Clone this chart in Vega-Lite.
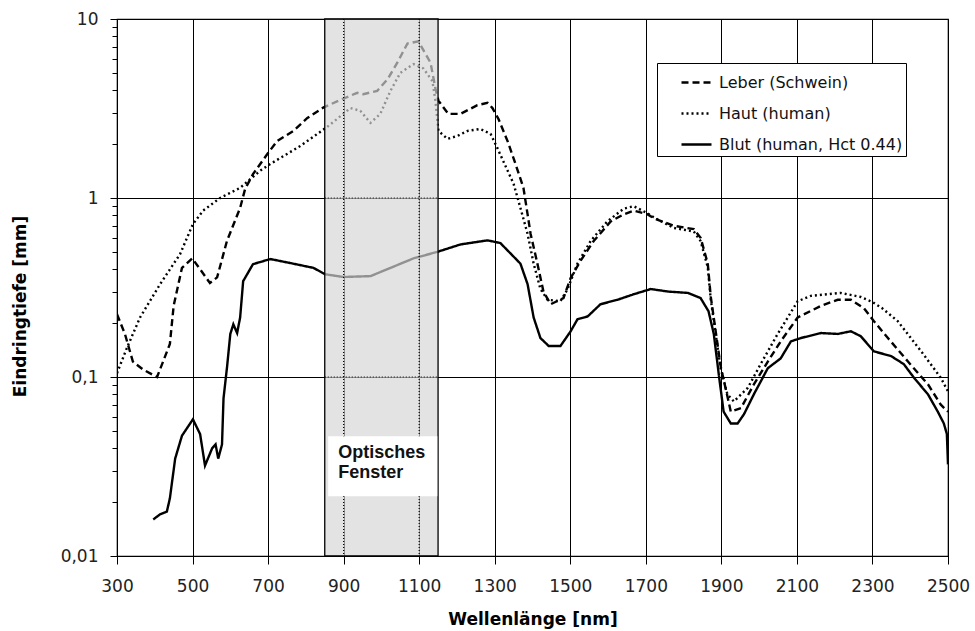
{
  "$schema": "https://vega.github.io/schema/vega-lite/v6.json",
  "width": 831,
  "height": 537,
  "autosize": "none",
  "padding": {"left": 117, "top": 19, "right": 27, "bottom": 75},
  "background": "white",
  "config": {
    "view": {"stroke": "black", "strokeWidth": 1.2},
    "font": "DejaVu Sans"
  },
  "datasets": {
    "curves": [
      {"series": "Leber (Schwein)", "nm": 300, "v": 0.224},
      {"series": "Leber (Schwein)", "nm": 321, "v": 0.174},
      {"series": "Leber (Schwein)", "nm": 342, "v": 0.122},
      {"series": "Leber (Schwein)", "nm": 369, "v": 0.11},
      {"series": "Leber (Schwein)", "nm": 406, "v": 0.1},
      {"series": "Leber (Schwein)", "nm": 422, "v": 0.122},
      {"series": "Leber (Schwein)", "nm": 440, "v": 0.153},
      {"series": "Leber (Schwein)", "nm": 450, "v": 0.25},
      {"series": "Leber (Schwein)", "nm": 472, "v": 0.407},
      {"series": "Leber (Schwein)", "nm": 499, "v": 0.46},
      {"series": "Leber (Schwein)", "nm": 520, "v": 0.4},
      {"series": "Leber (Schwein)", "nm": 546, "v": 0.335},
      {"series": "Leber (Schwein)", "nm": 565, "v": 0.36},
      {"series": "Leber (Schwein)", "nm": 591, "v": 0.575},
      {"series": "Leber (Schwein)", "nm": 626, "v": 0.88},
      {"series": "Leber (Schwein)", "nm": 639, "v": 1.12},
      {"series": "Leber (Schwein)", "nm": 660, "v": 1.36},
      {"series": "Leber (Schwein)", "nm": 698, "v": 1.76},
      {"series": "Leber (Schwein)", "nm": 724, "v": 2.08},
      {"series": "Leber (Schwein)", "nm": 767, "v": 2.37},
      {"series": "Leber (Schwein)", "nm": 804, "v": 2.8},
      {"series": "Leber (Schwein)", "nm": 846, "v": 3.2},
      {"series": "Leber (Schwein)", "nm": 891, "v": 3.53},
      {"series": "Leber (Schwein)", "nm": 936, "v": 3.87},
      {"series": "Leber (Schwein)", "nm": 952, "v": 3.8},
      {"series": "Leber (Schwein)", "nm": 989, "v": 3.97},
      {"series": "Leber (Schwein)", "nm": 1016, "v": 4.6},
      {"series": "Leber (Schwein)", "nm": 1042, "v": 5.7},
      {"series": "Leber (Schwein)", "nm": 1069, "v": 7.3},
      {"series": "Leber (Schwein)", "nm": 1098, "v": 7.5},
      {"series": "Leber (Schwein)", "nm": 1130, "v": 5.7},
      {"series": "Leber (Schwein)", "nm": 1143, "v": 4.1},
      {"series": "Leber (Schwein)", "nm": 1151, "v": 3.5},
      {"series": "Leber (Schwein)", "nm": 1177, "v": 2.95},
      {"series": "Leber (Schwein)", "nm": 1209, "v": 2.95},
      {"series": "Leber (Schwein)", "nm": 1254, "v": 3.3},
      {"series": "Leber (Schwein)", "nm": 1281, "v": 3.4},
      {"series": "Leber (Schwein)", "nm": 1294, "v": 3.18},
      {"series": "Leber (Schwein)", "nm": 1310, "v": 2.76},
      {"series": "Leber (Schwein)", "nm": 1334, "v": 2.08},
      {"series": "Leber (Schwein)", "nm": 1355, "v": 1.55},
      {"series": "Leber (Schwein)", "nm": 1376, "v": 1.14},
      {"series": "Leber (Schwein)", "nm": 1387, "v": 0.81},
      {"series": "Leber (Schwein)", "nm": 1395, "v": 0.63},
      {"series": "Leber (Schwein)", "nm": 1413, "v": 0.43},
      {"series": "Leber (Schwein)", "nm": 1429, "v": 0.3},
      {"series": "Leber (Schwein)", "nm": 1448, "v": 0.255},
      {"series": "Leber (Schwein)", "nm": 1482, "v": 0.276},
      {"series": "Leber (Schwein)", "nm": 1501, "v": 0.357},
      {"series": "Leber (Schwein)", "nm": 1527, "v": 0.445},
      {"series": "Leber (Schwein)", "nm": 1562, "v": 0.575},
      {"series": "Leber (Schwein)", "nm": 1607, "v": 0.74},
      {"series": "Leber (Schwein)", "nm": 1641, "v": 0.81},
      {"series": "Leber (Schwein)", "nm": 1668, "v": 0.85},
      {"series": "Leber (Schwein)", "nm": 1705, "v": 0.81},
      {"series": "Leber (Schwein)", "nm": 1721, "v": 0.77},
      {"series": "Leber (Schwein)", "nm": 1774, "v": 0.7},
      {"series": "Leber (Schwein)", "nm": 1827, "v": 0.67},
      {"series": "Leber (Schwein)", "nm": 1845, "v": 0.6},
      {"series": "Leber (Schwein)", "nm": 1864, "v": 0.43},
      {"series": "Leber (Schwein)", "nm": 1872, "v": 0.28},
      {"series": "Leber (Schwein)", "nm": 1885, "v": 0.18},
      {"series": "Leber (Schwein)", "nm": 1898, "v": 0.115},
      {"series": "Leber (Schwein)", "nm": 1916, "v": 0.078},
      {"series": "Leber (Schwein)", "nm": 1925, "v": 0.064},
      {"series": "Leber (Schwein)", "nm": 1952, "v": 0.067},
      {"series": "Leber (Schwein)", "nm": 1986, "v": 0.091},
      {"series": "Leber (Schwein)", "nm": 2023, "v": 0.122},
      {"series": "Leber (Schwein)", "nm": 2057, "v": 0.158},
      {"series": "Leber (Schwein)", "nm": 2102, "v": 0.215},
      {"series": "Leber (Schwein)", "nm": 2164, "v": 0.25},
      {"series": "Leber (Schwein)", "nm": 2208, "v": 0.27},
      {"series": "Leber (Schwein)", "nm": 2243, "v": 0.27},
      {"series": "Leber (Schwein)", "nm": 2277, "v": 0.243},
      {"series": "Leber (Schwein)", "nm": 2304, "v": 0.205},
      {"series": "Leber (Schwein)", "nm": 2341, "v": 0.165},
      {"series": "Leber (Schwein)", "nm": 2394, "v": 0.122},
      {"series": "Leber (Schwein)", "nm": 2447, "v": 0.091},
      {"series": "Leber (Schwein)", "nm": 2481, "v": 0.07},
      {"series": "Leber (Schwein)", "nm": 2500, "v": 0.064},

      {"series": "Haut (human)", "nm": 300, "v": 0.105},
      {"series": "Haut (human)", "nm": 326, "v": 0.145},
      {"series": "Haut (human)", "nm": 361, "v": 0.215},
      {"series": "Haut (human)", "nm": 414, "v": 0.33},
      {"series": "Haut (human)", "nm": 467, "v": 0.486},
      {"series": "Haut (human)", "nm": 501, "v": 0.715},
      {"series": "Haut (human)", "nm": 528, "v": 0.85},
      {"series": "Haut (human)", "nm": 573, "v": 1.0},
      {"series": "Haut (human)", "nm": 626, "v": 1.14},
      {"series": "Haut (human)", "nm": 679, "v": 1.42},
      {"series": "Haut (human)", "nm": 706, "v": 1.55},
      {"series": "Haut (human)", "nm": 785, "v": 1.95},
      {"series": "Haut (human)", "nm": 857, "v": 2.5},
      {"series": "Haut (human)", "nm": 918, "v": 3.18},
      {"series": "Haut (human)", "nm": 944, "v": 3.07},
      {"series": "Haut (human)", "nm": 971, "v": 2.63},
      {"series": "Haut (human)", "nm": 997, "v": 2.95},
      {"series": "Haut (human)", "nm": 1024, "v": 3.97},
      {"series": "Haut (human)", "nm": 1050, "v": 5.0},
      {"series": "Haut (human)", "nm": 1085, "v": 5.6},
      {"series": "Haut (human)", "nm": 1111, "v": 5.3},
      {"series": "Haut (human)", "nm": 1135, "v": 4.5},
      {"series": "Haut (human)", "nm": 1143, "v": 3.5},
      {"series": "Haut (human)", "nm": 1151, "v": 2.37},
      {"series": "Haut (human)", "nm": 1175, "v": 2.14},
      {"series": "Haut (human)", "nm": 1201, "v": 2.22},
      {"series": "Haut (human)", "nm": 1228, "v": 2.37},
      {"series": "Haut (human)", "nm": 1262, "v": 2.43},
      {"series": "Haut (human)", "nm": 1289, "v": 2.28},
      {"series": "Haut (human)", "nm": 1307, "v": 1.9},
      {"series": "Haut (human)", "nm": 1323, "v": 1.6},
      {"series": "Haut (human)", "nm": 1350, "v": 1.2},
      {"series": "Haut (human)", "nm": 1368, "v": 0.88},
      {"series": "Haut (human)", "nm": 1387, "v": 0.63},
      {"series": "Haut (human)", "nm": 1403, "v": 0.43},
      {"series": "Haut (human)", "nm": 1421, "v": 0.31},
      {"series": "Haut (human)", "nm": 1440, "v": 0.27},
      {"series": "Haut (human)", "nm": 1474, "v": 0.265},
      {"series": "Haut (human)", "nm": 1493, "v": 0.31},
      {"series": "Haut (human)", "nm": 1519, "v": 0.43},
      {"series": "Haut (human)", "nm": 1554, "v": 0.575},
      {"series": "Haut (human)", "nm": 1598, "v": 0.74},
      {"series": "Haut (human)", "nm": 1641, "v": 0.87},
      {"series": "Haut (human)", "nm": 1668, "v": 0.9},
      {"series": "Haut (human)", "nm": 1705, "v": 0.82},
      {"series": "Haut (human)", "nm": 1721, "v": 0.78},
      {"series": "Haut (human)", "nm": 1774, "v": 0.68},
      {"series": "Haut (human)", "nm": 1827, "v": 0.65},
      {"series": "Haut (human)", "nm": 1845, "v": 0.575},
      {"series": "Haut (human)", "nm": 1864, "v": 0.41},
      {"series": "Haut (human)", "nm": 1872, "v": 0.27},
      {"series": "Haut (human)", "nm": 1885, "v": 0.174},
      {"series": "Haut (human)", "nm": 1898, "v": 0.112},
      {"series": "Haut (human)", "nm": 1916, "v": 0.08},
      {"series": "Haut (human)", "nm": 1933, "v": 0.073},
      {"series": "Haut (human)", "nm": 1970, "v": 0.087},
      {"series": "Haut (human)", "nm": 2004, "v": 0.118},
      {"series": "Haut (human)", "nm": 2049, "v": 0.174},
      {"series": "Haut (human)", "nm": 2102, "v": 0.265},
      {"series": "Haut (human)", "nm": 2137, "v": 0.284},
      {"series": "Haut (human)", "nm": 2216, "v": 0.295},
      {"series": "Haut (human)", "nm": 2269, "v": 0.28},
      {"series": "Haut (human)", "nm": 2300, "v": 0.262},
      {"series": "Haut (human)", "nm": 2325, "v": 0.243},
      {"series": "Haut (human)", "nm": 2367, "v": 0.205},
      {"series": "Haut (human)", "nm": 2428, "v": 0.14},
      {"series": "Haut (human)", "nm": 2481, "v": 0.099},
      {"series": "Haut (human)", "nm": 2500, "v": 0.083},

      {"series": "Blut (human, Hct 0.44)", "nm": 396, "v": 0.016},
      {"series": "Blut (human, Hct 0.44)", "nm": 414, "v": 0.0171},
      {"series": "Blut (human, Hct 0.44)", "nm": 432, "v": 0.0177},
      {"series": "Blut (human, Hct 0.44)", "nm": 440, "v": 0.021},
      {"series": "Blut (human, Hct 0.44)", "nm": 454, "v": 0.035},
      {"series": "Blut (human, Hct 0.44)", "nm": 472, "v": 0.047},
      {"series": "Blut (human, Hct 0.44)", "nm": 501, "v": 0.058},
      {"series": "Blut (human, Hct 0.44)", "nm": 520, "v": 0.048},
      {"series": "Blut (human, Hct 0.44)", "nm": 533, "v": 0.032},
      {"series": "Blut (human, Hct 0.44)", "nm": 552, "v": 0.04},
      {"series": "Blut (human, Hct 0.44)", "nm": 561, "v": 0.042},
      {"series": "Blut (human, Hct 0.44)", "nm": 568, "v": 0.035},
      {"series": "Blut (human, Hct 0.44)", "nm": 578, "v": 0.042},
      {"series": "Blut (human, Hct 0.44)", "nm": 582, "v": 0.076},
      {"series": "Blut (human, Hct 0.44)", "nm": 591, "v": 0.112},
      {"series": "Blut (human, Hct 0.44)", "nm": 600, "v": 0.174},
      {"series": "Blut (human, Hct 0.44)", "nm": 608, "v": 0.197},
      {"series": "Blut (human, Hct 0.44)", "nm": 618, "v": 0.176},
      {"series": "Blut (human, Hct 0.44)", "nm": 626, "v": 0.215},
      {"series": "Blut (human, Hct 0.44)", "nm": 634, "v": 0.343},
      {"series": "Blut (human, Hct 0.44)", "nm": 660, "v": 0.427},
      {"series": "Blut (human, Hct 0.44)", "nm": 706, "v": 0.456},
      {"series": "Blut (human, Hct 0.44)", "nm": 759, "v": 0.433},
      {"series": "Blut (human, Hct 0.44)", "nm": 820, "v": 0.407},
      {"series": "Blut (human, Hct 0.44)", "nm": 851, "v": 0.375},
      {"series": "Blut (human, Hct 0.44)", "nm": 899, "v": 0.362},
      {"series": "Blut (human, Hct 0.44)", "nm": 971, "v": 0.366},
      {"series": "Blut (human, Hct 0.44)", "nm": 1024, "v": 0.407},
      {"series": "Blut (human, Hct 0.44)", "nm": 1085, "v": 0.46},
      {"series": "Blut (human, Hct 0.44)", "nm": 1148, "v": 0.5},
      {"series": "Blut (human, Hct 0.44)", "nm": 1209, "v": 0.55},
      {"series": "Blut (human, Hct 0.44)", "nm": 1281, "v": 0.58},
      {"series": "Blut (human, Hct 0.44)", "nm": 1315, "v": 0.56},
      {"series": "Blut (human, Hct 0.44)", "nm": 1368, "v": 0.43},
      {"series": "Blut (human, Hct 0.44)", "nm": 1387, "v": 0.33},
      {"series": "Blut (human, Hct 0.44)", "nm": 1403, "v": 0.215},
      {"series": "Blut (human, Hct 0.44)", "nm": 1421, "v": 0.165},
      {"series": "Blut (human, Hct 0.44)", "nm": 1443, "v": 0.149},
      {"series": "Blut (human, Hct 0.44)", "nm": 1474, "v": 0.149},
      {"series": "Blut (human, Hct 0.44)", "nm": 1501, "v": 0.18},
      {"series": "Blut (human, Hct 0.44)", "nm": 1519, "v": 0.21},
      {"series": "Blut (human, Hct 0.44)", "nm": 1546, "v": 0.218},
      {"series": "Blut (human, Hct 0.44)", "nm": 1580, "v": 0.255},
      {"series": "Blut (human, Hct 0.44)", "nm": 1625, "v": 0.27},
      {"series": "Blut (human, Hct 0.44)", "nm": 1668, "v": 0.29},
      {"series": "Blut (human, Hct 0.44)", "nm": 1713, "v": 0.31},
      {"series": "Blut (human, Hct 0.44)", "nm": 1760, "v": 0.3},
      {"series": "Blut (human, Hct 0.44)", "nm": 1811, "v": 0.295},
      {"series": "Blut (human, Hct 0.44)", "nm": 1845, "v": 0.276},
      {"series": "Blut (human, Hct 0.44)", "nm": 1866, "v": 0.233},
      {"series": "Blut (human, Hct 0.44)", "nm": 1880, "v": 0.174},
      {"series": "Blut (human, Hct 0.44)", "nm": 1893, "v": 0.104},
      {"series": "Blut (human, Hct 0.44)", "nm": 1906, "v": 0.064},
      {"series": "Blut (human, Hct 0.44)", "nm": 1925, "v": 0.055},
      {"series": "Blut (human, Hct 0.44)", "nm": 1943, "v": 0.055},
      {"series": "Blut (human, Hct 0.44)", "nm": 1960, "v": 0.062},
      {"series": "Blut (human, Hct 0.44)", "nm": 1986, "v": 0.08},
      {"series": "Blut (human, Hct 0.44)", "nm": 2023, "v": 0.112},
      {"series": "Blut (human, Hct 0.44)", "nm": 2057, "v": 0.127},
      {"series": "Blut (human, Hct 0.44)", "nm": 2084, "v": 0.158},
      {"series": "Blut (human, Hct 0.44)", "nm": 2110, "v": 0.165},
      {"series": "Blut (human, Hct 0.44)", "nm": 2164, "v": 0.176},
      {"series": "Blut (human, Hct 0.44)", "nm": 2208, "v": 0.174},
      {"series": "Blut (human, Hct 0.44)", "nm": 2243, "v": 0.18},
      {"series": "Blut (human, Hct 0.44)", "nm": 2269, "v": 0.169},
      {"series": "Blut (human, Hct 0.44)", "nm": 2304, "v": 0.139},
      {"series": "Blut (human, Hct 0.44)", "nm": 2349, "v": 0.131},
      {"series": "Blut (human, Hct 0.44)", "nm": 2383, "v": 0.118},
      {"series": "Blut (human, Hct 0.44)", "nm": 2410, "v": 0.099},
      {"series": "Blut (human, Hct 0.44)", "nm": 2447, "v": 0.08},
      {"series": "Blut (human, Hct 0.44)", "nm": 2473, "v": 0.064},
      {"series": "Blut (human, Hct 0.44)", "nm": 2489, "v": 0.055},
      {"series": "Blut (human, Hct 0.44)", "nm": 2497, "v": 0.048},
      {"series": "Blut (human, Hct 0.44)", "nm": 2500, "v": 0.0325}
    ],
    "window": [{"from": 850, "to": 1150}],
    "windowGrid": [{"nm": 900}, {"nm": 1100}],
    "windowHGrid": [{"from": 850, "to": 1150, "v": 1}, {"from": 850, "to": 1150, "v": 0.1}],
    "labelBox": [{"from": 859, "to": 1148, "lo": 0.0216, "hi": 0.0466}],
    "labelText": [{"nm": 886, "v": 0.0375, "t": "Optisches"}, {"nm": 886, "v": 0.029, "t": "Fenster"}]
  },
  "layer": [
    {
      "data": {"name": "curves"},
      "mark": {"type": "line", "color": "black", "clip": true},
      "encoding": {
        "x": {
          "field": "nm", "type": "quantitative",
          "scale": {"domain": [300, 2500], "nice": false, "zero": false},
          "axis": {
            "title": "Wellenlänge [nm]",
            "values": [300,350,400,450,500,550,600,650,700,750,800,850,900,950,1000,1050,1100,1150,1200,1250,1300,1350,1400,1450,1500,1550,1600,1650,1700,1750,1800,1850,1900,1950,2000,2050,2100,2150,2200,2250,2300,2350,2400,2450,2500],
            "labelExpr": "datum.value % 200 == 100 ? format(datum.value, 'd') : ''",
            "labelOverlap": false,
            "labelFont": "DejaVu Sans",
            "labelFontSize": 17,
            "labelColor": "#222",
            "labelPadding": 14,
            "labelBound": false,
            "labelFlush": false,
            "tickColor": "black",
            "tickSize": {"condition": {"test": "datum.value % 200 == 100", "value": 8}, "value": 5},
            "tickWidth": 1,
            "domainColor": "black",
            "grid": true,
            "gridColor": "black",
            "gridWidth": 1,
            "gridOpacity": {"condition": {"test": "datum.value % 200 == 100", "value": 1}, "value": 0},
            "titleFont": "DejaVu Sans",
            "titleFontWeight": "bold",
            "titleFontSize": 17,
            "titleColor": "black",
            "titleY": 63,
            "titleBaseline": "middle"
          }
        },
        "y": {
          "field": "v", "type": "quantitative",
          "scale": {"type": "log", "domain": [0.01, 10], "nice": false},
          "axis": {
            "title": "Eindringtiefe [mm]",
            "values": [0.01,0.02,0.03,0.04,0.05,0.06,0.07,0.08,0.09,0.1,0.2,0.3,0.4,0.5,0.6,0.7,0.8,0.9,1,2,3,4,5,6,7,8,9,10],
            "labelExpr": "datum.value == 0.01 ? '0,01' : datum.value == 0.1 ? '0,1' : datum.value == 1 ? '1' : datum.value == 10 ? '10' : ''",
            "labelOverlap": false,
            "labelFont": "DejaVu Sans",
            "labelFontSize": 17,
            "labelColor": "#222",
            "labelPadding": 12,
            "labelBound": false,
            "labelFlush": false,
            "tickColor": "black",
            "tickSize": {"condition": {"test": "datum.value == 0.01 || datum.value == 0.1 || datum.value == 1 || datum.value == 10", "value": 7}, "value": 5},
            "domainColor": "black",
            "grid": true,
            "gridColor": "black",
            "gridWidth": 1,
            "gridOpacity": {"condition": {"test": "datum.value == 0.1 || datum.value == 1", "value": 1}, "value": 0},
            "titleFont": "DejaVu Sans",
            "titleFontWeight": "bold",
            "titleFontSize": 17,
            "titleColor": "black",
            "titleX": -97,
            "titleY": 287,
            "titleAngle": 270,
            "titleAlign": "center",
            "titleBaseline": "middle"
          }
        },
        "strokeDash": {
          "field": "series", "type": "nominal",
          "scale": {"domain": ["Leber (Schwein)", "Haut (human)", "Blut (human, Hct 0.44)"], "range": [[7, 4], [2, 3], [1, 0]]},
          "legend": {
            "title": null,
            "orient": "none",
            "legendX": 540,
            "legendY": 44,
            "fillColor": "white",
            "strokeColor": "black",
            "padding": 3,
            "symbolType": "stroke",
            "symbolSize": 900,
            "symbolStrokeColor": "black",
            "symbolStrokeWidth": 2.5,
            "symbolOffset": 20,
            "labelOffset": 6,
            "labelFont": "DejaVu Sans",
            "labelFontSize": 16,
            "labelColor": "#111",
            "labelLimit": 400,
            "rowPadding": 6
          }
        },
        "strokeWidth": {
          "field": "series", "type": "nominal",
          "scale": {"domain": ["Leber (Schwein)", "Haut (human)", "Blut (human, Hct 0.44)"], "range": [2.4, 2.4, 3]},
          "legend": null
        },
        "order": {"field": "nm", "type": "quantitative"}
      }
    },
    {
      "data": {"name": "window"},
      "mark": {"type": "rect", "fill": "#d6d6d6", "fillOpacity": 0.68, "stroke": "black", "strokeWidth": 1.3},
      "encoding": {
        "x": {"field": "from", "type": "quantitative"},
        "x2": {"field": "to"}
      }
    },
    {
      "data": {"name": "windowGrid"},
      "mark": {"type": "rule", "color": "black", "strokeDash": [1, 2], "strokeWidth": 1.2},
      "encoding": {
        "x": {"field": "nm", "type": "quantitative"}
      }
    },
    {
      "data": {"name": "windowHGrid"},
      "mark": {"type": "rule", "color": "black", "strokeDash": [1, 2], "strokeWidth": 1.2},
      "encoding": {
        "x": {"field": "from", "type": "quantitative"},
        "x2": {"field": "to"},
        "y": {"field": "v", "type": "quantitative"}
      }
    },
    {
      "data": {"name": "labelBox"},
      "mark": {"type": "rect", "fill": "white"},
      "encoding": {
        "x": {"field": "from", "type": "quantitative"},
        "x2": {"field": "to"},
        "y": {"field": "lo", "type": "quantitative"},
        "y2": {"field": "hi"}
      }
    },
    {
      "data": {"name": "labelText"},
      "mark": {"type": "text", "align": "left", "baseline": "middle", "font": "Liberation Sans", "fontWeight": "bold", "fontSize": 18, "color": "#111"},
      "encoding": {
        "x": {"field": "nm", "type": "quantitative"},
        "y": {"field": "v", "type": "quantitative"},
        "text": {"field": "t"}
      }
    }
  ]
}
